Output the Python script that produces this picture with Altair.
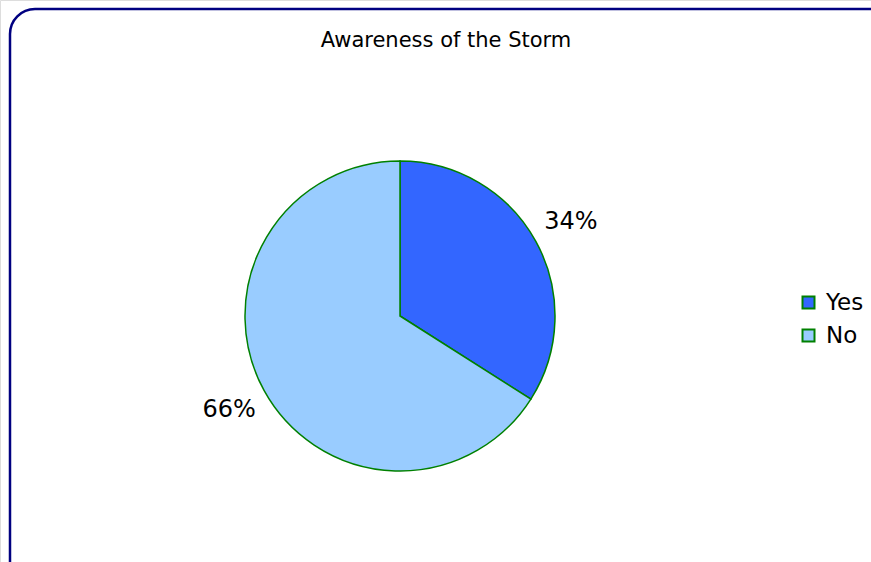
import altair as alt
import pandas as pd

categories = ["Yes", "No"]
values = [34, 66]
labels = ["34%", "66%"]
colors = ["#3366FF", "#99CCFF"]

df = pd.DataFrame({"answer": categories, "value": values, "label": labels,
                   "order": [0, 1]})

W, H = 871, 562
CX, CY, R = 400, 316, 155

border = alt.Chart(pd.DataFrame({"a": [0]})).mark_rect(
    fill=None, stroke="#000080", strokeWidth=2.5, cornerRadius=25
).encode(x=alt.value(10), y=alt.value(9), x2=alt.value(900), y2=alt.value(600))

title = alt.Chart(pd.DataFrame({"t": ["Awareness of the Storm"]})).mark_text(
    font="DejaVu Sans", fontSize=21, color="#000000", align="center", baseline="middle"
).encode(x=alt.value(446), y=alt.value(41), text="t:N")

base = alt.Chart(df).encode(
    theta=alt.Theta("value:Q", stack=True),
    order=alt.Order("order:Q"),
)

pie = base.mark_arc(outerRadius=R, stroke="#008000", strokeWidth=1.5).encode(
    x=alt.value(CX), y=alt.value(CY),
    color=alt.Color("answer:N", scale=alt.Scale(domain=categories, range=colors),
                    legend=alt.Legend(title=None, orient="none", legendX=797, legendY=291,
                                      symbolType="square", symbolSize=144,
                                      symbolStrokeColor="#008000", symbolStrokeWidth=2,
                                      labelFont="DejaVu Sans", labelFontSize=23,
                                      labelColor="#000000", rowPadding=9,
                                      labelOffset=6)),
)

text = base.mark_text(radius=195, font="DejaVu Sans", fontSize=24, color="#000000").encode(
    x=alt.value(CX), y=alt.value(CY), text="label:N"
)

chart = alt.layer(border, title, pie, text).properties(
    width=W, height=H, autosize=alt.AutoSizeParams(type="none"), padding=0
).configure_view(stroke=None).configure(background="#ffffff")

chart.save("out.html", embed_options={"renderer": "svg", "actions": False})
